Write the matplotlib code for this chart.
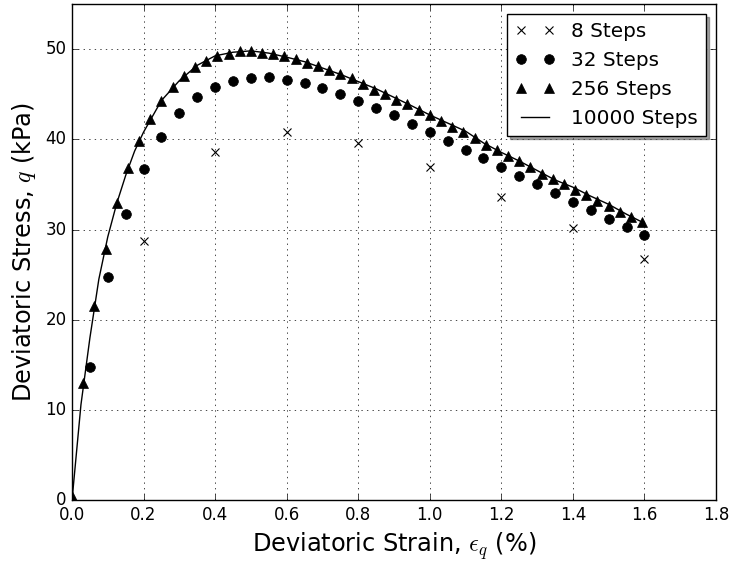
import numpy as np
import matplotlib
matplotlib.use("Agg")
import matplotlib.pyplot as plt

plt.style.use("classic")

# 8 steps
strain_8 = [0.2, 0.4, 0.6, 0.8, 1.0, 1.2, 1.4, 1.6]
stress_8 = [28.7, 38.6, 40.85, 39.55, 36.9, 33.6, 30.15, 26.7]

# 32 steps
strain_32 = np.arange(1, 33) * 0.05
stress_32 = [14.75, 24.7, 31.7, 36.7, 40.3, 42.9, 44.65, 45.8, 46.5, 46.8,
             46.9, 46.6, 46.2, 45.7, 45.0, 44.3, 43.5, 42.7, 41.7, 40.8,
             39.85, 38.85, 37.9, 36.9, 35.9, 35.0, 34.05, 33.1, 32.2, 31.2,
             30.3, 29.4]

# 256 steps (every 5th step marked)
strain_256 = np.arange(52) * 5 * 1.6 / 256
stress_256 = [0.5, 13.0, 21.5, 27.9, 32.9, 36.8, 39.85, 42.3, 44.3, 45.8,
              47.0, 47.97, 48.7, 49.2, 49.5, 49.8, 49.8, 49.6, 49.5, 49.2,
              48.9, 48.5, 48.1, 47.7, 47.2, 46.75, 46.1, 45.5, 45.0, 44.4,
              43.9, 43.2, 42.7, 42.0, 41.4, 40.8, 40.1, 39.4, 38.8, 38.2,
              37.6, 36.9, 36.2, 35.6, 35.05, 34.4, 33.8, 33.2, 32.6, 32.0,
              31.4, 30.8]

# 10000 steps (continuous)
strain_10k = [0.0, 0.025, 0.05, 0.075, 0.1, 0.125, 0.15, 0.175, 0.2, 0.25,
              0.3, 0.35, 0.4, 0.45, 0.5, 0.55, 0.6, 0.65, 0.7, 0.75, 0.8,
              0.85, 0.9, 0.95, 1.0, 1.05, 1.1, 1.15, 1.2, 1.25, 1.3, 1.35,
              1.4, 1.45, 1.5, 1.55, 1.6]
stress_10k = [0.0, 10.6, 18.0, 24.5, 29.2, 32.9, 36.0, 38.7, 40.8, 44.3,
              46.5, 48.2, 49.25, 49.65, 49.8, 49.55, 49.1, 48.6, 47.9, 47.2,
              46.4, 45.6, 44.65, 43.7, 42.7, 41.8, 40.9, 39.6, 38.55, 37.6,
              36.55, 35.5, 34.7, 33.7, 32.8, 31.7, 30.7]

fig = plt.figure(figsize=(7.31, 5.61), dpi=100)
ax = fig.add_axes([0.0985, 0.108, 0.881, 0.885])

ax.plot(strain_8, stress_8, "kx", ms=6, mew=0.8, label="8 Steps")
ax.plot(strain_32, stress_32, "ko", ms=7, label="32 Steps")
ax.plot(strain_256, stress_256, "k^", ms=7, label="256 Steps")
ax.plot(strain_10k, stress_10k, "k-", lw=1.0, label="10000 Steps")

ax.set_xlim(0, 1.8)
ax.set_ylim(0, 55)
ax.set_xticks(np.arange(0, 1.81, 0.2))
ax.set_yticks(np.arange(0, 51, 10))
ax.grid(True)

ax.set_xlabel(r"Deviatoric Strain, $\epsilon_q$ (%)", fontsize=17.28)
ax.set_ylabel(r"Deviatoric Stress, $q$ (kPa)", fontsize=17.28)
ax.legend(loc="upper right", numpoints=2, shadow=True, fontsize=14.4)

fig.savefig("out.png", dpi=100, facecolor="white")
